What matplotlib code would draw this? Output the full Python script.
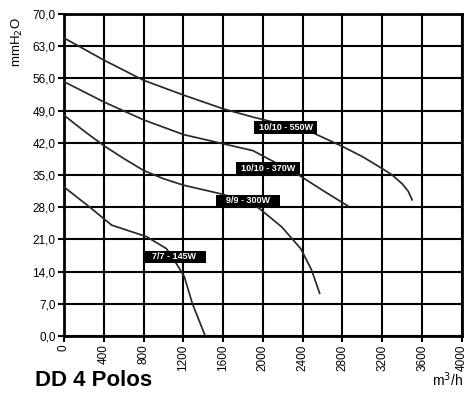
import matplotlib.pyplot as plt
from matplotlib.patches import Rectangle

plt.rcParams['font.family'] = ['Liberation Sans', 'DejaVu Sans']

# curves (flow m3/h, pressure mmH2O)
q_550 = [0, 400, 800, 1200, 1600, 1900, 2200, 2500, 2800, 3000, 3200, 3300, 3400, 3460, 3500]
p_550 = [64.8, 60.0, 55.6, 52.4, 49.4, 47.6, 46.0, 44.2, 41.2, 39.0, 36.4, 35.0, 33.1, 31.5, 29.6]

q_370 = [0, 400, 800, 1200, 1600, 1900, 2100, 2360, 2620, 2860]
p_370 = [55.3, 50.9, 47.0, 43.8, 41.8, 40.3, 38.0, 35.0, 31.4, 28.2]

q_300 = [0, 200, 400, 600, 800, 1000, 1200, 1560, 1800, 1960, 2190, 2380, 2490, 2570]
p_300 = [48.0, 44.6, 41.4, 38.6, 36.0, 34.2, 32.8, 31.0, 29.6, 27.8, 23.7, 19.0, 14.3, 9.3]

q_145 = [0, 260, 480, 830, 1030, 1140, 1210, 1290, 1420]
p_145 = [32.4, 28.0, 24.1, 21.6, 19.0, 15.4, 12.9, 7.1, 0.0]

labels = ['10/10 - 550W', '10/10 - 370W', '9/9 - 300W', '7/7 - 145W']
label_q = [2227, 2050, 1850, 1110]
label_p = [45.3, 36.5, 29.4, 17.2]

x_ticks = list(range(0, 4001, 400))
y_ticks = [0, 7, 14, 21, 28, 35, 42, 49, 56, 63, 70]

box_w, box_h = 640, 2.7  # label box size in data units

fig = plt.figure(figsize=(4.67, 3.96), dpi=100)
ax = fig.add_axes([0.137, 0.1515, 0.852, 0.813])

for q, p in [(q_550, p_550), (q_370, p_370), (q_300, p_300), (q_145, p_145)]:
    ax.plot(q, p, color='#2a2a2a', lw=1.25, zorder=3,
            solid_joinstyle='round')

for s, xq, yp in zip(labels, label_q, label_p):
    ax.add_patch(Rectangle((xq - box_w / 2, yp - box_h / 2), box_w, box_h,
                           fc='black', ec='none', zorder=4))
    ax.text(xq, yp, s, color='white', fontsize=6.5, fontweight='bold',
            ha='center', va='center', zorder=5)

ax.set_xlim(0, 4000)
ax.set_ylim(0, 70)
ax.set_xticks(x_ticks)
ax.set_yticks(y_ticks)
ax.set_xticklabels([str(v) for v in x_ticks], rotation=90, fontsize=8.5)
ax.set_yticklabels([f'{v:.1f}'.replace('.', ',') for v in y_ticks], fontsize=8.5)
ax.grid(True, color='black', lw=1.5)
ax.tick_params(length=4, width=1.5, color='black', pad=2)
for sp in ax.spines.values():
    sp.set_linewidth(2)

fig.text(0.038, 0.955, 'mmH$_2$O', rotation=90, fontsize=9.5, ha='center', va='top')
fig.text(0.075, 0.04, 'DD 4 Polos', fontsize=16, fontweight='bold', ha='left', va='center')
fig.text(0.992, 0.04, 'm$^3$/h', fontsize=10, ha='right', va='center')

fig.savefig('out.png', dpi=100)
